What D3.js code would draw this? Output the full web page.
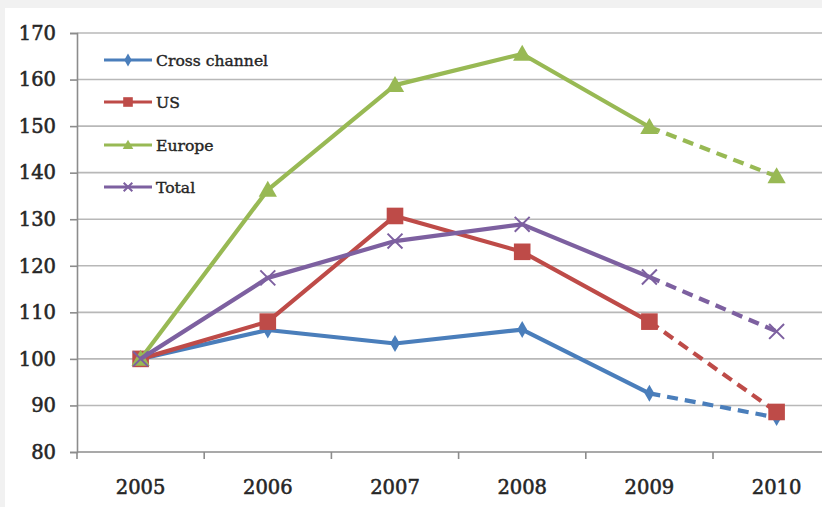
<!DOCTYPE html>
<html>
<head>
<meta charset="utf-8">
<script src="https://cdn.jsdelivr.net/npm/d3@7"></script>
<style>
  html, body { margin: 0; padding: 0; background: #f1f1f1; }
  svg { display: block; }
</style>
</head>
<body>
<svg id="chart" width="822" height="507"></svg>
<script>
// Index values, 2005 = 100
const years = ["2005", "2006", "2007", "2008", "2009", "2010"];
const crossChannel = [100, 106.2, 103.3, 106.3, 92.6, 87.4];
const us = [100, 108, 130.7, 123, 108, 88.6];
const europe = [100, 136.3, 158.8, 165.5, 149.8, 139.2];
const total = [100, 117.4, 125.3, 128.9, 117.6, 105.9];
const yTicks = [80, 90, 100, 110, 120, 130, 140, 150, 160, 170];

const seriesList = [
  { name: "Cross channel", values: crossChannel, color: "#4a7ebb", marker: "diamond" },
  { name: "US", values: us, color: "#be4b48", marker: "square" },
  { name: "Europe", values: europe, color: "#98b954", marker: "triangle" },
  { name: "Total", values: total, color: "#7d60a0", marker: "cross" }
];

const svg = d3.select("#chart");
const W = 822, H = 507;
const plotLeft = 77, plotTop = 33, plotBottom = 452;
const band = 127.2;

// card background
svg.append("rect").attr("x", 5).attr("y", 8).attr("width", W - 5).attr("height", H - 8)
  .attr("fill", "#ffffff");

const x = d3.scaleBand().domain(years).range([plotLeft, plotLeft + band * years.length]).paddingInner(0).paddingOuter(0);
const y = d3.scaleLinear().domain([80, 170]).range([plotBottom, plotTop]);
const xc = d => x(d) + x.bandwidth() / 2;

const font = "'DejaVu Serif', 'Liberation Serif', serif";
const textColor = "#262626";

// slightly heavier label text
function styleText(sel, size) {
  sel.attr("font-family", font).attr("font-size", size).attr("fill", textColor)
    .attr("stroke", textColor).attr("stroke-width", 0.55);
}

// horizontal gridlines
svg.append("g").selectAll("line").data(yTicks.filter(t => t > 80)).join("line")
  .attr("x1", plotLeft).attr("x2", W)
  .attr("y1", d => y(d)).attr("y2", d => y(d))
  .attr("stroke", "#b8b8b8").attr("stroke-width", 1.6);

// y axis
const yAxis = d3.axisLeft(y).tickValues(yTicks).tickSize(7).tickPadding(14);
const gy = svg.append("g").attr("transform", `translate(${plotLeft},0)`).call(yAxis);
gy.select(".domain").attr("stroke", "#8c8c8c").attr("stroke-width", 1.6);
gy.selectAll(".tick line").attr("stroke", "#8c8c8c").attr("stroke-width", 1.6);
styleText(gy.selectAll(".tick text"), 19.5);

// x axis with ticks between categories
const xAxis = d3.axisBottom(x).tickSize(0).tickPadding(28);
const gx = svg.append("g").attr("transform", `translate(0,${plotBottom})`).call(xAxis);
gx.select(".domain").remove();
gx.append("line").attr("x1", plotLeft).attr("x2", W).attr("y1", 0).attr("y2", 0)
  .attr("stroke", "#8c8c8c").attr("stroke-width", 1.6);
styleText(gx.selectAll(".tick text"), 19.5);
gx.selectAll("line.sep").data(years).join("line").attr("class", "sep")
  .attr("x1", d => x(d)).attr("x2", d => x(d)).attr("y1", 0).attr("y2", 7)
  .attr("stroke", "#8c8c8c").attr("stroke-width", 1.6);

// marker drawing
function drawMarker(g, type, color, cx, cy, s) {
  if (type === "diamond") {
    g.append("path").attr("d", d3.symbol(d3.symbolDiamond, s * 10)())
      .attr("transform", `translate(${cx},${cy})`).attr("fill", color);
  } else if (type === "square") {
    g.append("rect").attr("x", cx - s).attr("y", cy - s)
      .attr("width", s * 2).attr("height", s * 2).attr("fill", color);
  } else if (type === "triangle") {
    const r = s * 1.1;
    g.append("path").attr("d", `M${cx},${cy - r}L${cx + r},${cy + r * 0.75}L${cx - r},${cy + r * 0.75}Z`)
      .attr("fill", color);
  } else {
    const r = s * 0.9;
    g.append("path").attr("d", `M${cx - r},${cy - r}L${cx + r},${cy + r}M${cx - r},${cy + r}L${cx + r},${cy - r}`)
      .attr("stroke", color).attr("stroke-width", 2).attr("fill", "none");
  }
}

const line = d3.line().x(d => xc(d.year)).y(d => y(d.value));

seriesList.forEach(s => {
  const pts = years.map((yr, i) => ({ year: yr, value: s.values[i] }));
  const g = svg.append("g");
  // actual years
  g.append("path").datum(pts.slice(0, 5)).attr("d", line)
    .attr("fill", "none").attr("stroke", s.color).attr("stroke-width", 4.2)
    .attr("stroke-linejoin", "round");
  // projected final year
  g.append("path").datum(pts.slice(4)).attr("d", line)
    .attr("fill", "none").attr("stroke", s.color).attr("stroke-width", 4.2)
    .attr("stroke-dasharray", "11,7");
  pts.forEach(p => drawMarker(g, s.marker, s.color, xc(p.year), y(p.value), 8.3));
});

// legend
const legend = svg.append("g");
const legY = [60, 102, 145, 187];
seriesList.forEach((s, i) => {
  const ly = legY[i];
  legend.append("line").attr("x1", 104).attr("x2", 152).attr("y1", ly).attr("y2", ly)
    .attr("stroke", s.color).attr("stroke-width", 2.8);
  drawMarker(legend, s.marker, s.color, 128, ly, 4.8);
  const t = legend.append("text").attr("x", 156).attr("y", ly + 5.5).text(s.name);
  styleText(t, 15.6);
  t.attr("stroke-width", 0.4);
});
</script>
</body>
</html>
